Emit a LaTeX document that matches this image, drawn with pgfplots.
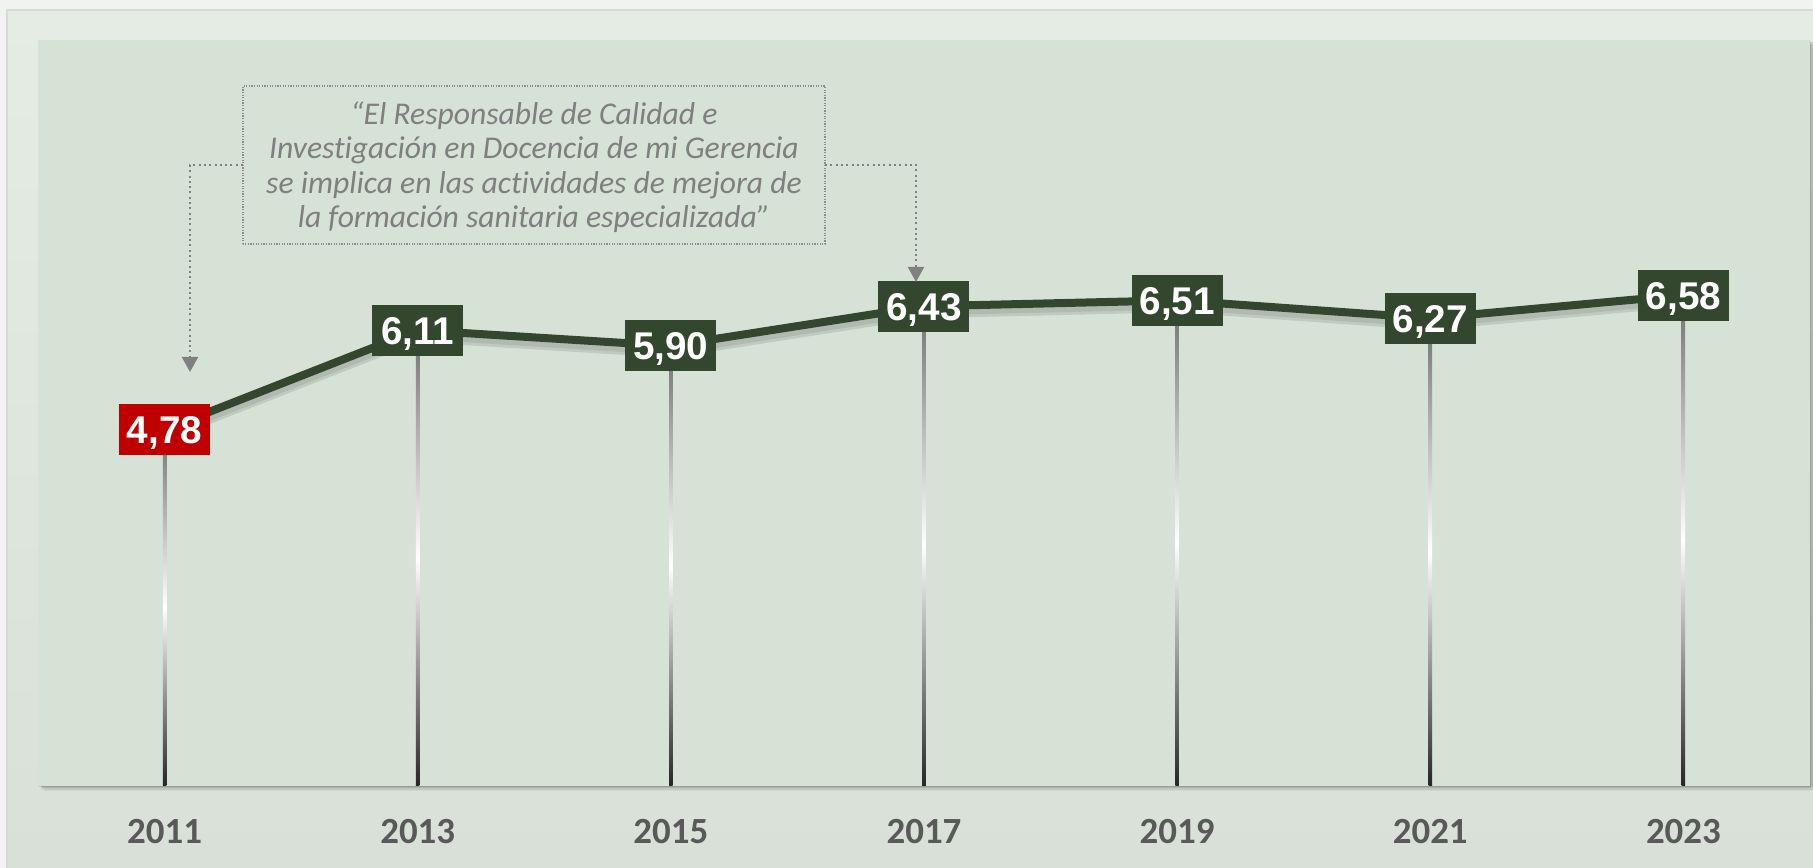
\documentclass[border=0pt]{standalone}
\usepackage{pgfplots}
\usepackage{pgfplotstable}
\pgfplotsset{compat=1.18}
\usepackage{fontspec}
\setmainfont{Carlito}[Ligatures=NoCommon]
\newfontfamily\labfont{Liberation Sans}
\usetikzlibrary{arrows.meta}
\definecolor{pagebg}{HTML}{F2F2F2}
\definecolor{frametop}{HTML}{E4ECE4}
\definecolor{framebot}{HTML}{D8E0D8}
\definecolor{plotbg}{HTML}{D6E2D5}
\definecolor{linegreen}{HTML}{33472F}
\definecolor{boxgreen}{HTML}{33472F}
\definecolor{boxred}{HTML}{C00000}
\definecolor{yearcol}{HTML}{595959}
\definecolor{annotcol}{HTML}{7F7F7F}
\definecolor{conncol}{HTML}{808080}
\definecolor{dropTop}{HTML}{707070}
\definecolor{dropBot}{HTML}{262626}
\tikzset{label box/.style={anchor=center, text=white, inner sep=0pt,
     minimum width=9.1mm, minimum height=5.1mm, text height=7.9pt, text depth=0pt,
     font=\labfont\fontsize{11}{13}\selectfont\bfseries},
  drop/.style={draw=none, top color=dropTop, bottom color=dropBot, middle color=white}}

\pgfplotstableread{
year val
2011 4.78
2013 6.11
2015 5.90
2017 6.43
2019 6.51
2021 6.27
2023 6.58
}\datatable

\begin{document}
\begin{tikzpicture}
\begin{scope}[x=0.1mm,y=0.1mm]
\useasboundingbox (0,0) rectangle (1813,868);
\fill[pagebg] (0,0) rectangle (1813,868);
\shade[top color=frametop,bottom color=framebot] (7,0) rectangle (1813,858);
\draw[black!15, line width=0.15mm] (7,0) -- (7,858) -- (1813,858);
% plot area shadow
\foreach \d/\o in {1/0.12,2.5/0.10,4/0.07,5.5/0.04}{
  \fill[black,opacity=\o] (38+\d,82-\d) rectangle (1810+\d,828-\d);
}
\end{scope}
\begin{axis}[
  at={(3.8mm,8.2mm)}, anchor=south west,
  width=177.2mm, height=74.6mm, scale only axis,
  xmin=2010, xmax=2024, ymin=0, ymax=10,
  axis line style={draw=none},
  ytick=\empty,
  xtick={2011,2013,2015,2017,2019,2021,2023},
  xticklabels={2011,2013,2015,2017,2019,2021,2023},
  major tick length=0pt,
  xticklabel style={anchor=center, yshift=-4.6mm, font=\fontsize{10.5}{12}\selectfont\bfseries, text=yearcol},
  axis background/.style={fill=plotbg},
  clip=false,
]
% drop lines (thin shaded columns from 0 up to each value)
\addplot[drop] coordinates {(2010.986,0) (2010.986,4.78) (2011.014,4.78) (2011.014,0)} -- cycle;
\addplot[drop] coordinates {(2012.986,0) (2012.986,6.11) (2013.014,6.11) (2013.014,0)} -- cycle;
\addplot[drop] coordinates {(2014.986,0) (2014.986,5.90) (2015.014,5.90) (2015.014,0)} -- cycle;
\addplot[drop] coordinates {(2016.986,0) (2016.986,6.43) (2017.014,6.43) (2017.014,0)} -- cycle;
\addplot[drop] coordinates {(2018.986,0) (2018.986,6.51) (2019.014,6.51) (2019.014,0)} -- cycle;
\addplot[drop] coordinates {(2020.986,0) (2020.986,6.27) (2021.014,6.27) (2021.014,0)} -- cycle;
\addplot[drop] coordinates {(2022.986,0) (2022.986,6.58) (2023.014,6.58) (2023.014,0)} -- cycle;
% line shadow
\addplot[black, opacity=0.10, line width=3.2pt, yshift=-1.8pt, mark=none, line join=round] table[x=year,y=val] {\datatable};
\addplot[black, opacity=0.08, line width=2.4pt, yshift=-1.4pt, mark=none, line join=round] table[x=year,y=val] {\datatable};
% main line
\addplot[linegreen, line width=0.8mm, mark=none, line join=round] table[x=year,y=val] {\datatable};
% labels
\addplot[draw=none, mark=none, restrict x to domain=2012:2024,
  nodes near coords={\pgfmathprintnumber[use comma,fixed,fixed zerofill,precision=2,assume math mode=true]{\pgfplotspointmeta}},
  every node near coord/.append style={label box, fill=boxgreen}]
  table[x=year,y=val] {\datatable};
\addplot[draw=none, mark=none,
  nodes near coords={\pgfmathprintnumber[use comma,fixed,fixed zerofill,precision=2,assume math mode=true]{\pgfplotspointmeta}},
  every node near coord/.append style={label box, fill=boxred}]
  coordinates {(2011,4.78)};
\end{axis}
\begin{scope}[x=0.1mm,y=0.1mm]
% annotation
\draw[annotcol!90, line width=0.12mm, dash pattern=on 0.12mm off 0.14mm] (243,624) rectangle (825,782);
\node[font=\fontsize{9}{9.8}\selectfont\itshape, text=annotcol, align=center, inner sep=0pt] at (534,701)
  {“El Responsable de Calidad e\\Investigación en Docencia de mi Gerencia\\se implica en las actividades de mejora de\\la formación sanitaria especializada”};
\draw[conncol, line width=0.2mm, dash pattern=on 0.2mm off 0.33mm, -{Triangle[width=1.6mm,length=1.5mm]}] (243,703) -| (190,496);
\draw[conncol, line width=0.2mm, dash pattern=on 0.2mm off 0.33mm, -{Triangle[width=1.6mm,length=1.5mm]}] (825,703) -| (916,586);
\end{scope}
\end{tikzpicture}
\end{document}
